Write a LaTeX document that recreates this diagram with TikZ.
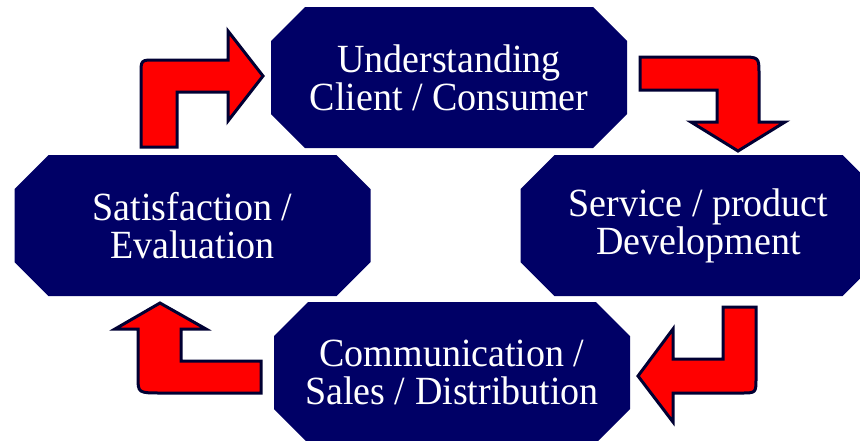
\documentclass[tikz,border=0pt]{standalone}
\usepackage{fontspec}
\setmainfont{Liberation Serif}[FakeStretch=0.95]
\usetikzlibrary{backgrounds}

\definecolor{stagenavy}{RGB}{0,0,102}
\definecolor{turnred}{RGB}{255,0,0}
\definecolor{turnrim}{RGB}{0,0,51}

\tikzset{
	stage/.style={rectangle, text=white, minimum width=356pt, minimum height=141pt,
		inner sep=0pt, outer sep=0pt, align=center, font=\fontsize{40}{38}\selectfont},
	turn/.style={fill=turnred, draw=turnrim, line width=3pt, line join=miter}
}

\begin{document}
\begin{tikzpicture}[x=1pt,y=-1pt]
	\useasboundingbox (0,0) rectangle (860,440);

	\node[stage] (understanding) at (449,77.5) {Understanding \\ Client / Consumer};
	\node[stage] (development) at (698.5,225.5) {Service / product \\ Development};
	\node[stage] (communication) at (452,372.5) {Communication / \\ Sales / Distribution};
	\node[stage] (satisfaction) at (192.5,225.5) {Satisfaction / \\ Evaluation};

	\begin{scope}[on background layer]
		\fill[white] (0,0) rectangle (860,440);
		\foreach \n in {understanding,development,communication,satisfaction}
			\fill[stagenavy] ([shift={(34,0)}]\n.north west) -- ([shift={(-34,0)}]\n.north east)
				-- ([shift={(0,34)}]\n.north east) -- ([shift={(0,-34)}]\n.south east)
				-- ([shift={(-34,0)}]\n.south east) -- ([shift={(34,0)}]\n.south west)
				-- ([shift={(0,-34)}]\n.south west) -- ([shift={(0,34)}]\n.north west) -- cycle;
	\end{scope}

	\path[turn] (141,147) -- (141,74) .. controls (141,60) .. (155,60) -- (228,60) -- (228,31)
		-- (263,76) -- (228,121) -- (228,92) -- (177,92) -- (177,147) -- cycle;
	\path[turn] (640,57) -- (740,57) .. controls (759,57) .. (759,74) -- (759,122) -- (785,122)
		-- (738,151) -- (691,122) -- (717,122) -- (717,90) -- (640,90) -- cycle;
	\path[turn] (723,307) -- (756,307) -- (756,378) .. controls (756,393) .. (741,393) -- (673,393)
		-- (673,422) -- (638,376) -- (673,329) -- (673,359) -- (723,359) -- cycle;
	\path[turn] (261,361) -- (261,393) -- (162,393) .. controls (138,393) .. (138,377) -- (138,329)
		-- (115,329) -- (160,303) -- (206,329) -- (181,329) -- (181,361) -- cycle;
\end{tikzpicture}
\end{document}
